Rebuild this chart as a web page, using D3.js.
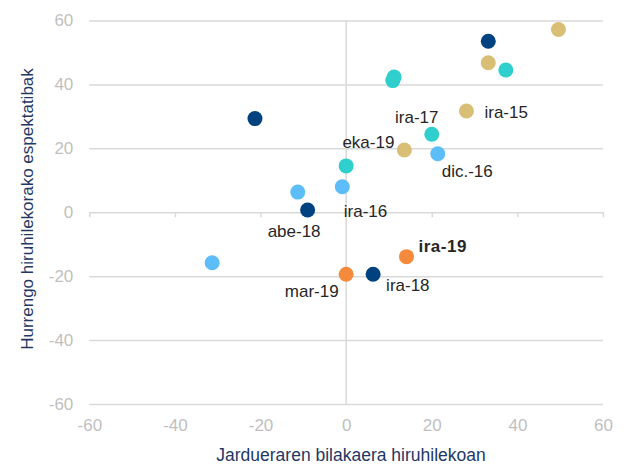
<!DOCTYPE html>
<html>
<head>
<meta charset="utf-8">
<script src="https://cdn.jsdelivr.net/npm/d3@7"></script>
<style>
  body { margin: 0; background: #fff; }
  svg text { font-family: "Liberation Sans", Arial, sans-serif; }
</style>
</head>
<body>
<div id="chart"></div>
<script>
// series, one array per colour group: [activity change, expectations]
var navy = [[33.2, 53.5], [-21.3, 29.3], [-9.0, 0.7], [6.3, -19.4]];
var lightBlue = [[21.4, 18.3], [-0.9, 8.0], [-11.3, 6.3], [-31.3, -15.8]];
var teal = [[10.9, 41.2], [11.2, 42.3], [37.3, 44.5], [20.0, 24.4], [0.0, 14.5]];
var tan = [[49.6, 57.2], [33.2, 46.8], [28.1, 31.7], [13.6, 19.5]];
var orange = [[0.0, -19.4], [14.1, -13.9]];

var ticks = [-60, -40, -20, 0, 20, 40, 60];

// point labels: text, [x, y] of the point it belongs to
var labels = [
  ["ira-15", [28.1, 31.7]],
  ["ira-17", [20.0, 24.4]],
  ["eka-19", [13.6, 19.5]],
  ["dic.-16", [21.4, 18.3]],
  ["ira-16", [-0.9, 8.0]],
  ["abe-18", [-9.0, 0.7]],
  ["ira-19", [14.1, -13.9]],
  ["mar-19", [0.0, -19.4]],
  ["ira-18", [6.3, -19.4]]
];

var xTitle = "Jardueraren bilakaera hiruhilekoan";
var yTitle = "Hurrengo hiruhilekorako espektatibak";

// label placement (pixels from the point)
var labelPos = {
  "ira-15": {dx: 18, dy: 1.5, anchor: "start", bold: false},
  "ira-17": {dx: -15, dy: -17, anchor: "middle", bold: false},
  "eka-19": {dx: -10, dy: -8, anchor: "end", bold: false},
  "dic.-16": {dx: 4, dy: 17.5, anchor: "start", bold: false},
  "ira-16": {dx: 1.5, dy: 24, anchor: "start", bold: false},
  "abe-18": {dx: -13.5, dy: 21, anchor: "middle", bold: false},
  "ira-19": {dx: 12, dy: -11, anchor: "start", bold: true},
  "mar-19": {dx: -7.5, dy: 17, anchor: "end", bold: false},
  "ira-18": {dx: 13, dy: 10.5, anchor: "start", bold: false}
};

var width = 628, height = 466;
var margin = {top: 20.5, right: 25, bottom: 62, left: 89.3};
var innerW = width - margin.left - margin.right,
    innerH = height - margin.top - margin.bottom;

var gridColor = "#d9d9d9", tickColor = "#bfbfbf", titleColor = "#1f3864";
var fmt = function(d){ return String(d); };   // plain hyphen minus like the original

var svg = d3.select("#chart").append("svg")
  .attr("width", width)
  .attr("height", height);

var g = svg.append("g")
  .attr("transform", "translate(" + margin.left + "," + margin.top + ")");

var x = d3.scaleLinear().domain([-60, 60]).range([0, innerW]);
var y = d3.scaleLinear().domain([-60, 60]).range([innerH, 0]);

// horizontal gridlines + y tick labels
var yAxis = g.append("g")
  .call(d3.axisLeft(y).tickValues(ticks).tickFormat(fmt).tickSize(-innerW).tickPadding(16));
yAxis.select(".domain").remove();
yAxis.selectAll(".tick line").attr("stroke", gridColor).attr("stroke-width", 1.5);
yAxis.selectAll(".tick text").attr("fill", tickColor).style("font-size", "17px");

// x tick labels under the plot
var xAxis = g.append("g")
  .attr("transform", "translate(0," + innerH + ")")
  .call(d3.axisBottom(x).tickValues(ticks).tickFormat(fmt).tickSize(0).tickPadding(15));
xAxis.select(".domain").remove();
xAxis.selectAll(".tick text").attr("fill", tickColor).style("font-size", "17px");

// small tick marks on the zero line
var zeroAxis = g.append("g")
  .attr("transform", "translate(0," + y(0) + ")")
  .call(d3.axisBottom(x).tickValues(ticks).tickSize(5).tickFormat(""));
zeroAxis.select(".domain").remove();
zeroAxis.selectAll(".tick line").attr("stroke", gridColor).attr("stroke-width", 1.5);

// vertical zero line
g.append("line")
  .attr("x1", x(0)).attr("x2", x(0))
  .attr("y1", 0).attr("y2", innerH)
  .attr("stroke", gridColor)
  .attr("stroke-width", 1.5);

var series = [
  {color: "#5dbdf9", pts: lightBlue},
  {color: "#2ecfcc", pts: teal},
  {color: "#d9be76", pts: tan},
  {color: "#00427f", pts: navy},
  {color: "#f58a3d", pts: orange}
];

series.forEach(function(s){
  g.selectAll(null)
    .data(s.pts)
    .enter().append("circle")
    .attr("cx", function(d){ return x(d[0]); })
    .attr("cy", function(d){ return y(d[1]); })
    .attr("r", 7.5)
    .attr("fill", s.color);
});

g.selectAll(".plabel")
  .data(labels)
  .enter().append("text")
  .attr("class", "plabel")
  .attr("x", function(d){ return x(d[1][0]) + labelPos[d[0]].dx; })
  .attr("y", function(d){ return y(d[1][1]) + labelPos[d[0]].dy; })
  .attr("dy", "0.35em")
  .attr("text-anchor", function(d){ return labelPos[d[0]].anchor; })
  .attr("fill", "#262626")
  .style("font-size", "17px")
  .style("font-weight", function(d){ return labelPos[d[0]].bold ? "bold" : "normal"; })
  .style("letter-spacing", function(d){ return labelPos[d[0]].bold ? "0.5px" : null; })
  .text(function(d){ return d[0]; });

// axis titles
svg.append("text")
  .attr("x", 351)
  .attr("y", 455)
  .attr("dy", "0.35em")
  .attr("text-anchor", "middle")
  .attr("fill", titleColor)
  .style("font-size", "17.5px")
  .text(xTitle);

svg.append("text")
  .attr("transform", "translate(27,209) rotate(-90)")
  .attr("dy", "0.35em")
  .attr("text-anchor", "middle")
  .attr("fill", titleColor)
  .style("font-size", "17px")
  .text(yTitle);
</script>
</body>
</html>
